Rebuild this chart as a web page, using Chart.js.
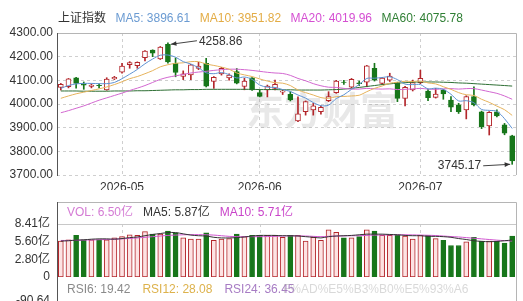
<!DOCTYPE html>
<html>
<head>
<meta charset="utf-8">
<script src="https://cdn.jsdelivr.net/npm/chart.js@4.4.1/dist/chart.umd.min.js"></script>
<style>
html, body { margin: 0; padding: 0; background: #fff; }
#wrap { position: relative; width: 523px; height: 301px; overflow: hidden; }
canvas { position: absolute; left: 0; }
#main { top: 0; }
#vol { top: 190px; }
</style>
</head>
<body>
<div id="wrap">
  <canvas id="main" width="523" height="190"></canvas>
  <canvas id="vol" width="523" height="111"></canvas>
</div>
<script>
// trading days shown
const dates = [
  '2026-04-21','2026-04-22','2026-04-23','2026-04-24','2026-04-27','2026-04-28','2026-04-29','2026-04-30',
  '2026-05-06','2026-05-07','2026-05-08','2026-05-11','2026-05-12','2026-05-13','2026-05-14','2026-05-15',
  '2026-05-18','2026-05-19','2026-05-20','2026-05-21','2026-05-22','2026-05-25','2026-05-26','2026-05-27',
  '2026-05-28','2026-05-29',
  '2026-06-01','2026-06-02','2026-06-03','2026-06-04','2026-06-05','2026-06-08','2026-06-09','2026-06-10',
  '2026-06-11','2026-06-12','2026-06-15','2026-06-16','2026-06-17','2026-06-18','2026-06-22','2026-06-23',
  '2026-06-24','2026-06-25','2026-06-26','2026-06-29','2026-06-30',
  '2026-07-01','2026-07-02','2026-07-03','2026-07-06','2026-07-07','2026-07-08','2026-07-09','2026-07-10',
  '2026-07-13','2026-07-14','2026-07-15','2026-07-16','2026-07-17'
];
const monthLabels = ['2026-05', '2026-06', '2026-07'];

const opens  = [4070,4073,4111,4083,4074,4079,4060,4106,4134,4166,4162,4196,4228,4190,4252,4172,4117,4123,4150,4172,
                4095,4127,4110,4137,4074,4111,4048,4060,4066,4050,4041,3929,3968,3975,3968,4014,4048,4093,4071,4089,
                4092,4151,4087,4101,4090,4024,4060,4090,4055,4028,4059,4017,3996,3975,4031,3967,3907,3967,3912,3866];
const closes = [4083,4106,4087,4080,4080,4077,4105,4113,4160,4175,4176,4224,4215,4240,4178,4133,4128,4165,4160,4075,
                4113,4151,4122,4088,4097,4060,4032,4076,4083,4055,4017,3958,4010,3992,3986,4031,4097,4091,4104,4086,
                4161,4101,4109,4118,4024,4070,4090,4108,4027,4042,4043,3987,3968,4031,3996,3904,3965,3950,3877,3760];
const highs  = [4087,4108,4113,4093,4085,4085,4111,4117,4172,4179,4178,4226,4229,4243,4258.86,4195,4140,4168,4176,4193,
                4116,4155,4127,4150,4109,4112,4060,4080,4101,4060,4052,4030,4013,4003,3992,4052,4100,4100,4108,4097,
                4163,4172,4113,4130,4092,4075,4101,4143,4062,4066,4062,4031,4003,4035,4073,3970,3968,3975,3918,3868];
const lows   = [4059,4068,4067,4062,4068,4068,4058,4103,4130,4151,4151,4182,4200,4188,4172,4115,4103,4103,4145,4072,
                4066,4122,4101,4085,4060,4057,4030,4030,4060,4040,4013,3925,3953,3953,3957,4010,4045,4083,4068,4078,
                4073,4097,4083,4095,4010,3992,4055,4086,4014,4025,4020,3968,3960,3937,3992,3896,3869,3945,3870,3745.17];

const ma5  = [4066,4078,4085,4087,4087,4086,4086,4091,4107,4126,4146,4170,4190,4206,4207,4198,4179,4169,4153,4132,
              4128,4133,4124,4110,4114,4104,4080,4071,4070,4061,4053,4038,4025,4006,3993,3995,4023,4039,4062,4082,
              4108,4109,4112,4115,4103,4084,4082,4082,4064,4067,4062,4041,4013,4014,4005,3977,3973,3969,3938,3896.61];
const ma10 = [4024,4034,4043,4050,4057,4064,4072,4082,4094,4107,4116,4128,4141,4157,4166,4172,4174,4179,4179,4169,
              4163,4156,4147,4131,4123,4116,4106,4097,4090,4088,4078,4059,4048,4038,4027,4024,4031,4032,4034,4037,
              4052,4066,4076,4088,4092,4096,4095,4097,4089,4085,4073,4062,4048,4039,4036,4020,4007,3991,3976,3951.82];
const ma20 = [3963,3972,3982,3992,4004,4016,4026,4036,4046,4057,4067,4078,4091,4104,4113,4119,4125,4131,4135,4138,
              4142,4145,4147,4147,4145,4142,4138,4134,4131,4129,4121,4108,4098,4086,4077,4071,4070,4066,4063,4063,
              4066,4064,4063,4064,4061,4062,4064,4066,4063,4062,4064,4065,4063,4065,4065,4059,4052,4045,4034,4019.96];
const ma60 = [4055,4055,4055,4054,4054,4054,4054,4055,4055,4055,4056,4056,4057,4058,4059,4060,4060,4061,4061,4062,
              4062,4062,4062,4062,4062,4062,4061,4061,4061,4060,4060,4059,4059,4059,4059,4060,4061,4063,4066,4070,
              4074,4078,4082,4085,4088,4090,4092,4093,4093,4093,4092,4091,4089,4088,4086,4084,4082,4080,4078,4075.78];
const priceTicks = [3700, 3800, 3900, 4000, 4100, 4200, 4300];

// volume, in 亿
const volumes = [5.7,5.9,6.6,5.9,5.9,5.9,5.9,6.2,6.4,6.7,6.6,7.2,6.8,6.8,7.3,7.0,6.2,6.0,6.0,7.0,
                 5.8,6.0,6.1,6.8,6.4,6.6,6.6,6.6,6.6,6.3,6.6,6.6,5.7,6.3,5.8,7.5,7.1,6.2,6.2,6.4,
                 7.5,7.3,6.6,6.6,6.6,6.5,6.0,6.6,6.6,6.1,5.8,5.0,5.0,5.6,6.3,5.7,5.7,5.7,5.4,6.50];
const volMa5  = [5.70,5.75,5.85,5.90,6.00,6.05,6.05,6.00,6.10,6.25,6.35,6.55,6.75,6.90,7.05,7.05,6.85,6.65,6.55,6.50,
                 6.30,6.20,6.20,6.25,6.35,6.50,6.60,6.60,6.60,6.55,6.55,6.50,6.40,6.30,6.20,6.40,6.50,6.55,6.60,6.70,
                 6.80,6.80,6.80,6.75,6.70,6.60,6.55,6.55,6.45,6.45,6.40,6.30,6.10,5.95,5.75,5.65,5.60,5.65,5.75,5.87];
const volMa10 = [5.80,5.80,5.82,5.85,5.88,5.92,5.95,6.00,6.05,6.12,6.20,6.30,6.40,6.50,6.60,6.65,6.70,6.72,6.72,6.70,
                 6.65,6.55,6.45,6.40,6.40,6.40,6.40,6.42,6.45,6.50,6.52,6.52,6.50,6.45,6.40,6.45,6.50,6.52,6.55,6.55,
                 6.60,6.65,6.65,6.68,6.70,6.70,6.68,6.65,6.62,6.58,6.50,6.42,6.35,6.25,6.15,6.05,5.95,5.85,5.77,5.71];
const volTicks = [0, 2.80, 5.60, 8.41];

const FONT = "'Liberation Sans', Arial, 'Noto Sans CJK SC', sans-serif";
const UP = '#b3262b', DOWN = '#17761a';
const isUp = closes.map((c, i) => c >= opens[i]);
const monthIdx = monthLabels.map(m => dates.findIndex(d => d.startsWith(m)));
const last = dates.length - 1;

function arrow(ctx, x1, y1, x2, y2) {
  ctx.beginPath();
  ctx.moveTo(x1, y1);
  ctx.lineTo(x2, y2);
  ctx.stroke();
  const a = Math.atan2(y2 - y1, x2 - x1);
  ctx.beginPath();
  ctx.moveTo(x2, y2);
  ctx.lineTo(x2 - 6 * Math.cos(a - 0.4), y2 - 6 * Math.sin(a - 0.4));
  ctx.lineTo(x2 - 6 * Math.cos(a + 0.4), y2 - 6 * Math.sin(a + 0.4));
  ctx.closePath();
  ctx.fill();
}

const mainDecor = {
  id: 'mainDecor',
  beforeDatasetsDraw(chart) {
    const ctx = chart.ctx;
    ctx.save();
    ctx.font = "bold 38px 'Noto Sans CJK SC'";
    ctx.fillStyle = 'rgba(150,150,150,0.22)';
    ctx.textBaseline = 'middle';
    ctx.fillText('东方财富', 246, 110);
    ctx.restore();
  },
  afterDraw(chart) {
    const { ctx, chartArea: a } = chart;
    const xs = chart.scales.x, ys = chart.scales.y;
    ctx.save();
    // frame
    ctx.lineWidth = 1;
    ctx.strokeStyle = '#b5b5b5';
    ctx.beginPath();
    ctx.moveTo(a.left, a.top + 0.5); ctx.lineTo(a.right + 0.5, a.top + 0.5);
    ctx.lineTo(a.right + 0.5, a.bottom);
    ctx.stroke();
    ctx.strokeStyle = '#555';
    ctx.beginPath();
    ctx.moveTo(a.left + 0.5, a.top); ctx.lineTo(a.left + 0.5, a.bottom + 1);
    ctx.stroke();

    // legend row
    ctx.font = '12px ' + FONT;
    ctx.textBaseline = 'middle';
    const items = [
      ['上证指数', '#333'],
      ['MA5: ' + ma5[last].toFixed(2), '#6b9bd2'],
      ['MA10: ' + ma10[last].toFixed(2), '#e3ac45'],
      ['MA20: ' + ma20[last].toFixed(2), '#d54fd2'],
      ['MA60: ' + ma60[last].toFixed(2), '#2f7f34']
    ];
    let x = 58;
    items.forEach(([t, c]) => {
      ctx.fillStyle = c;
      ctx.fillText(t, x, 19);
      x += ctx.measureText(t).width + 9.5;
    });

    // max / min markers
    let hi = 0, lo = 0;
    highs.forEach((v, i) => { if (v > highs[hi]) hi = i; });
    lows.forEach((v, i) => { if (v < lows[lo]) lo = i; });
    ctx.fillStyle = '#333';
    ctx.strokeStyle = '#444';
    let px = xs.getPixelForValue(hi), py = ys.getPixelForValue(highs[hi]);
    ctx.textAlign = 'left';
    ctx.fillText(highs[hi].toFixed(2), px + 31, py - 1.5);
    arrow(ctx, px + 29, py - 2, px + 3, py + 1.5);
    px = xs.getPixelForValue(lo); py = ys.getPixelForValue(lows[lo]);
    ctx.textAlign = 'right';
    ctx.fillText(lows[lo].toFixed(2), px - 31, py + 1.5);
    arrow(ctx, px - 29, py + 1.5, px - 2, py);
    ctx.restore();
  }
};

new Chart(document.getElementById('main'), {
  data: {
    labels: dates,
    datasets: [
      { type: 'line', data: ma5, borderColor: '#5f93d3', borderWidth: 1, pointRadius: 0, tension: 0.3, order: 0 },
      { type: 'line', data: ma10, borderColor: '#e6b35c', borderWidth: 1, pointRadius: 0, tension: 0.3, order: 0 },
      { type: 'line', data: ma20, borderColor: '#d267d0', borderWidth: 1, pointRadius: 0, tension: 0.3, order: 0 },
      { type: 'line', data: ma60, borderColor: '#2d6e33', borderWidth: 1, pointRadius: 0, tension: 0.3, order: 0 },
      {
        type: 'bar', data: opens.map((o, i) => [o, closes[i]]),
        backgroundColor: isUp.map(u => u ? '#fff' : DOWN),
        borderColor: isUp.map(u => u ? UP : DOWN),
        borderWidth: 1, borderSkipped: false, barThickness: 5, grouped: false, order: 1
      },
      {
        type: 'bar', data: lows.map((l, i) => [l, highs[i]]),
        backgroundColor: isUp.map(u => u ? UP : DOWN),
        barThickness: 1, grouped: false, order: 2
      }
    ]
  },
  options: {
    responsive: false,
    animation: false,
    layout: { padding: { top: 33, right: 7, left: 0, bottom: 0 } },
    plugins: { legend: { display: false }, tooltip: { enabled: false } },
    scales: {
      x: {
        type: 'category',
        offset: true,
        grid: {
          offset: false,
          drawTicks: false,
          color: c => monthIdx.includes(c.index) ? '#cfcfcf' : 'rgba(0,0,0,0)'
        },
        border: { display: false, dash: [3, 3] },
        ticks: {
          autoSkip: false, maxRotation: 0, padding: 5,
          color: '#333', font: { family: FONT, size: 12 },
          callback: (v, i) => { const m = monthIdx.indexOf(i); return m >= 0 ? monthLabels[m] : ''; }
        },
        afterFit: s => { s.height = 15; }
      },
      y: {
        min: 3700, max: 4300,
        afterBuildTicks: s => { s.ticks = priceTicks.map(v => ({ value: v })); },
        grid: { color: '#cfcfcf', drawTicks: false },
        border: { display: false, dash: [3, 3] },
        ticks: { padding: 4, color: '#333', font: { family: FONT, size: 12 }, callback: v => v.toFixed(2) },
        afterFit: s => { s.width = 57; }
      }
    }
  },
  plugins: [mainDecor]
});

const volDecor = {
  id: 'volDecor',
  beforeDatasetsDraw(chart) {
    const { ctx, chartArea: a } = chart;
    const xs = chart.scales.x;
    ctx.save();
    ctx.strokeStyle = '#cfcfcf';
    ctx.setLineDash([3, 3]);
    monthIdx.forEach(i => {
      const x = Math.round(xs.getPixelForValue(i)) + 0.5;
      ctx.beginPath(); ctx.moveTo(x, a.top); ctx.lineTo(x, a.bottom); ctx.stroke();
    });
    ctx.setLineDash([]);
    ctx.strokeStyle = '#c8c8c8';
    ctx.beginPath(); ctx.moveTo(a.left, a.top + 0.5); ctx.lineTo(a.right, a.top + 0.5); ctx.stroke();
    ctx.restore();
  },
  afterDraw(chart) {
    const { ctx, chartArea: a } = chart;
    ctx.save();
    ctx.lineWidth = 1;
    ctx.strokeStyle = '#b5b5b5';
    ctx.beginPath();
    ctx.moveTo(a.left, 12.5); ctx.lineTo(a.right + 0.5, 12.5); ctx.lineTo(a.right + 0.5, 111);
    ctx.stroke();
    ctx.strokeStyle = '#555';
    ctx.beginPath(); ctx.moveTo(a.left + 0.5, 12); ctx.lineTo(a.left + 0.5, 111); ctx.stroke();

    ctx.font = '12px ' + FONT;
    ctx.textBaseline = 'middle';
    const items = [
      ['VOL: ' + volumes[last].toFixed(2) + '亿', '#d47bd4'],
      ['MA5: ' + volMa5[last].toFixed(2) + '亿', '#333'],
      ['MA10: ' + volMa10[last].toFixed(2) + '亿', '#c944c9']
    ];
    let x = 67;
    items.forEach(([t, c]) => {
      ctx.fillStyle = c;
      ctx.fillText(t, x, 23);
      x += ctx.measureText(t).width + 10;
    });

    const rsi = [['RSI6: 19.42', '#8a8a8a'], ['RSI12: 28.08', '#ddb24c'], ['RSI24: 36.45', '#a77cc4']];
    x = 67;
    rsi.forEach(([t, c]) => {
      ctx.fillStyle = c;
      ctx.fillText(t, x, 100);
      x += ctx.measureText(t).width + 12;
    });
    ctx.fillStyle = 'rgba(170,170,170,0.45)';
    ctx.fillText('F%AD%E5%B3%B0%E5%93%A6', 283, 100);
    ctx.fillStyle = '#333';
    ctx.textAlign = 'right';
    ctx.fillText('-90.64', 50, 111);
    ctx.restore();
  }
};

new Chart(document.getElementById('vol'), {
  data: {
    labels: dates,
    datasets: [
      { type: 'line', data: volMa5, borderColor: '#333', borderWidth: 1, pointRadius: 0, tension: 0.3, order: 0 },
      { type: 'line', data: volMa10, borderColor: '#d056d0', borderWidth: 1, pointRadius: 0, tension: 0.3, order: 0 },
      {
        type: 'bar', data: volumes,
        backgroundColor: isUp.map(u => u ? '#fde3e3' : DOWN),
        borderColor: isUp.map(u => u ? UP : DOWN),
        borderWidth: 1, borderSkipped: false, barThickness: 5, order: 1
      }
    ]
  },
  options: {
    responsive: false,
    animation: false,
    layout: { padding: { top: 34, right: 7, left: 0, bottom: 24 } },
    plugins: { legend: { display: false }, tooltip: { enabled: false } },
    scales: {
      x: { type: 'category', offset: true, display: false },
      y: {
        min: 0, max: 8.41,
        afterBuildTicks: s => { s.ticks = volTicks.map(v => ({ value: v })); },
        grid: { display: false, drawTicks: false },
        border: { display: false },
        ticks: {
          padding: 7, color: '#333', font: { family: FONT, size: 12 },
          callback: v => v === 0 ? '0' : v.toFixed(2) + '亿'
        },
        afterFit: s => { s.width = 57; }
      }
    }
  },
  plugins: [volDecor]
});
</script>
</body>
</html>
